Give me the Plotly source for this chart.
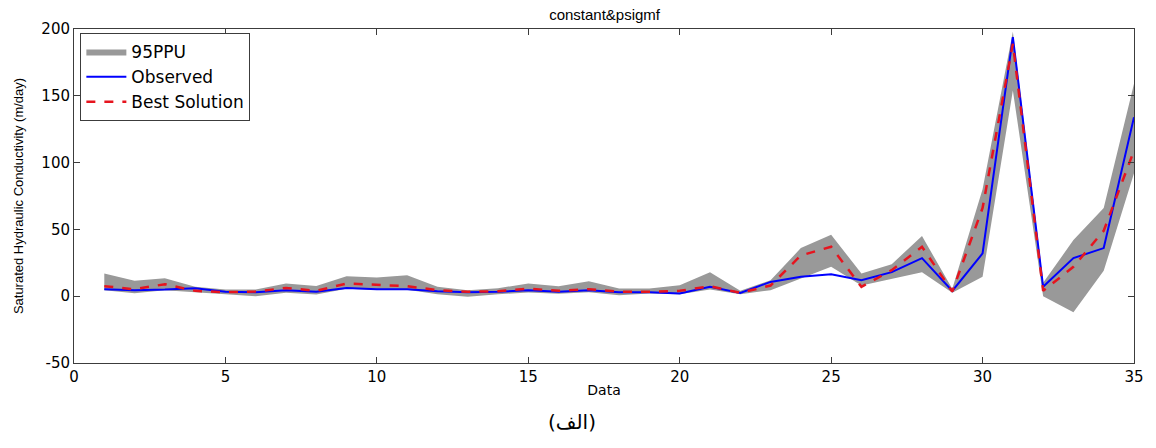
import plotly.graph_objects as go

data_idx = list(range(1, 36))
observed = [5.2, 4.5, 5.0, 6.0, 3.3, 3.0, 4.5, 3.3, 6.2, 5.2, 5.2, 3.7, 3.0, 3.3, 4.5, 3.3, 4.5, 3.0, 3.0, 2.0,
            7.0, 2.5, 10.7, 14.5, 16.5, 12.0, 18.0, 28.5, 4.0, 32.0, 194.0, 7.0, 28.5, 36.0, 134.0]
best = [7.5, 5.2, 9.0, 4.0, 3.0, 3.5, 6.2, 4.0, 9.5, 8.5, 7.5, 4.5, 3.3, 3.7, 5.7, 4.0, 5.2, 3.3, 3.3, 4.0,
        7.5, 2.5, 8.0, 30.5, 37.0, 7.0, 19.5, 37.0, 3.5, 66.0, 189.0, 4.0, 22.0, 49.0, 109.0]
ppu_upper = [17.0, 11.5, 13.4, 7.0, 5.0, 5.0, 9.5, 7.7, 15.0, 14.0, 15.7, 7.0, 4.5, 6.0, 9.5, 7.5, 11.2, 5.7, 5.7, 8.2,
             18.0, 4.0, 12.0, 36.0, 46.0, 17.0, 24.0, 45.0, 5.5, 80.0, 198.0, 10.0, 42.0, 66.0, 159.0]
ppu_lower = [4.5, 2.2, 4.5, 2.5, 1.5, 0.0, 2.5, 1.3, 5.5, 4.8, 4.8, 1.5, -0.5, 1.5, 2.7, 1.8, 3.0, 0.7, 2.0, 1.5,
             5.0, 1.5, 4.5, 13.0, 22.0, 8.0, 13.0, 18.0, 2.5, 14.5, 154.0, 0.0, -12.0, 19.0, 92.0]

x_ticks = [0, 5, 10, 15, 20, 25, 30, 35]
y_ticks = [-50, 0, 50, 100, 150, 200]

FONT = "Liberation Sans, Arial, sans-serif"
WIDE = "DejaVu Sans, Verdana, sans-serif"

fig = go.Figure()
fig.add_trace(go.Scatter(
    x=data_idx + data_idx[::-1],
    y=ppu_upper + ppu_lower[::-1],
    fill="toself", fillcolor="rgb(153,153,153)",
    line=dict(width=0, color="rgb(153,153,153)"),
    mode="lines", name="95PPU", hoverinfo="skip"))
fig.add_trace(go.Scatter(
    x=data_idx, y=observed, mode="lines", name="Observed",
    line=dict(color="rgb(0,0,255)", width=2)))
fig.add_trace(go.Scatter(
    x=data_idx, y=best, mode="lines", name="Best Solution",
    line=dict(color="rgb(230,20,30)", width=2.5, dash="dash")))

axis_common = dict(showline=True, linecolor="rgb(60,60,60)", linewidth=1, mirror="ticks",
                   ticks="inside", ticklen=6, tickcolor="rgb(60,60,60)", showgrid=False,
                   zeroline=False, tickfont=dict(family=WIDE, size=15, color="black"))

fig.update_layout(
    width=1156, height=448,
    margin=dict(l=74, r=19, t=29, b=85),
    paper_bgcolor="white", plot_bgcolor="white",
    title=dict(text="constant&psigmf", x=0.523, xanchor="center", y=0.968, yanchor="middle",
               font=dict(family=FONT, size=15, color="black")),
    xaxis=dict(range=[0, 35], tickvals=x_ticks, ticktext=[str(v) for v in x_ticks],
               title=dict(text="Data", font=dict(family=WIDE, size=14, color="black"), standoff=0),
               **axis_common),
    yaxis=dict(range=[-50, 200], tickvals=y_ticks, ticktext=[str(v) for v in y_ticks],
               title=dict(text="Saturated Hydraulic Conductivity (m/day)",
                          font=dict(family=FONT, size=13, color="black"), standoff=14),
               **axis_common),
    legend=dict(x=0.006, y=0.988, xanchor="left", yanchor="top",
                bordercolor="rgb(60,60,60)", borderwidth=1, bgcolor="white",
                font=dict(family=WIDE, size=17, color="black"),
                tracegroupgap=0, itemwidth=40),
    showlegend=True,
)

fig.add_annotation(text="(الف)", xref="paper", yref="paper", x=0.4695, y=-0.135,
                   xanchor="center", yanchor="top", showarrow=False,
                   font=dict(family="DejaVu Sans, Noto Sans, sans-serif", size=20, color="black"))

fig.write_html("out.html", config={"displayModeBar": False},
               post_script="document.body.style.margin='0';document.body.style.overflow='hidden';")
